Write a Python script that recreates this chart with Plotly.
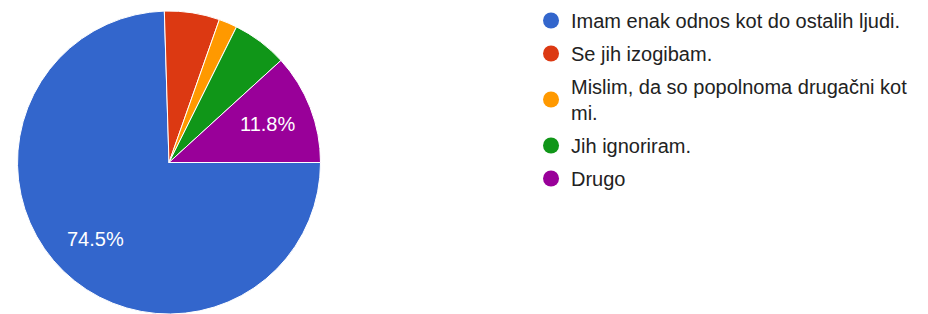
import math
import plotly.graph_objects as go

categories = [
    "Imam enak odnos kot do ostalih ljudi.",
    "Se jih izogibam.",
    "Mislim, da so popolnoma drugačni kot<br>mi.",
    "Jih ignoriram.",
    "Drugo",
]
counts = [38, 3, 1, 3, 6]
colors = ["#3366cc", "#dc3912", "#ff9900", "#109618", "#990099"]

W, H = 928, 314
M_T, M_B = 3, 8                 # page body has an 8px offset
AREA_H = H - M_T - M_B
R_PX = AREA_H / 2
CX_PX = 161
dom_x = [(CX_PX - R_PX) / W, (CX_PX + R_PX) / W]

total = sum(counts)
START_DEG = 0  # rotation=90 -> first slice starts at 3 o'clock, clockwise

fig = go.Figure()
fig.add_trace(go.Pie(
    labels=categories,
    values=counts,
    sort=False,
    direction="clockwise",
    rotation=90,
    marker=dict(colors=colors, line=dict(color="white", width=1)),
    textinfo="none",
    showlegend=False,
    hoverinfo="label+percent",
    domain=dict(x=dom_x, y=[0, 1]),
))

# percentage labels for large slices, placed like the original (inside, ~70% radius)
annotations = []
cum = 0.0
for c in counts:
    frac = c / total
    if frac >= 0.1:
        ang = math.radians(START_DEG - 360 * (cum + frac / 2))
        rr = 0.70 * R_PX
        annotations.append(dict(
            x=(CX_PX + rr * math.cos(ang)) / W,
            y=0.5 + rr * math.sin(ang) / AREA_H,
            xref="paper", yref="paper",
            xanchor="center", yanchor="middle",
            text=f"{frac * 100:.1f}%", showarrow=False,
            font=dict(color="white", size=20, family="Arial, Liberation Sans, sans-serif"),
        ))
    cum += frac

for i, (cat, col) in enumerate(zip(categories, colors)):
    fig.add_trace(go.Scatter(
        x=[None], y=[None], mode="markers", name=cat,
        legendgroup=f"g{i}",
        marker=dict(symbol="circle", size=18, color=col),
        hoverinfo="skip",
    ))

fig.update_layout(
    width=W, height=H,
    margin=dict(l=0, r=0, t=M_T, b=M_B, autoexpand=False),
    paper_bgcolor="white", plot_bgcolor="white",
    xaxis=dict(visible=False), yaxis=dict(visible=False),
    annotations=annotations,
    legend=dict(
        x=0.5636, y=0.3828, xanchor="left", yanchor="bottom",
        font=dict(size=20, color="#222222", family="Arial, Liberation Sans, sans-serif"),
        tracegroupgap=4, itemwidth=30,
        bgcolor="rgba(0,0,0,0)",
    ),
)

fig.write_html("out.html")
